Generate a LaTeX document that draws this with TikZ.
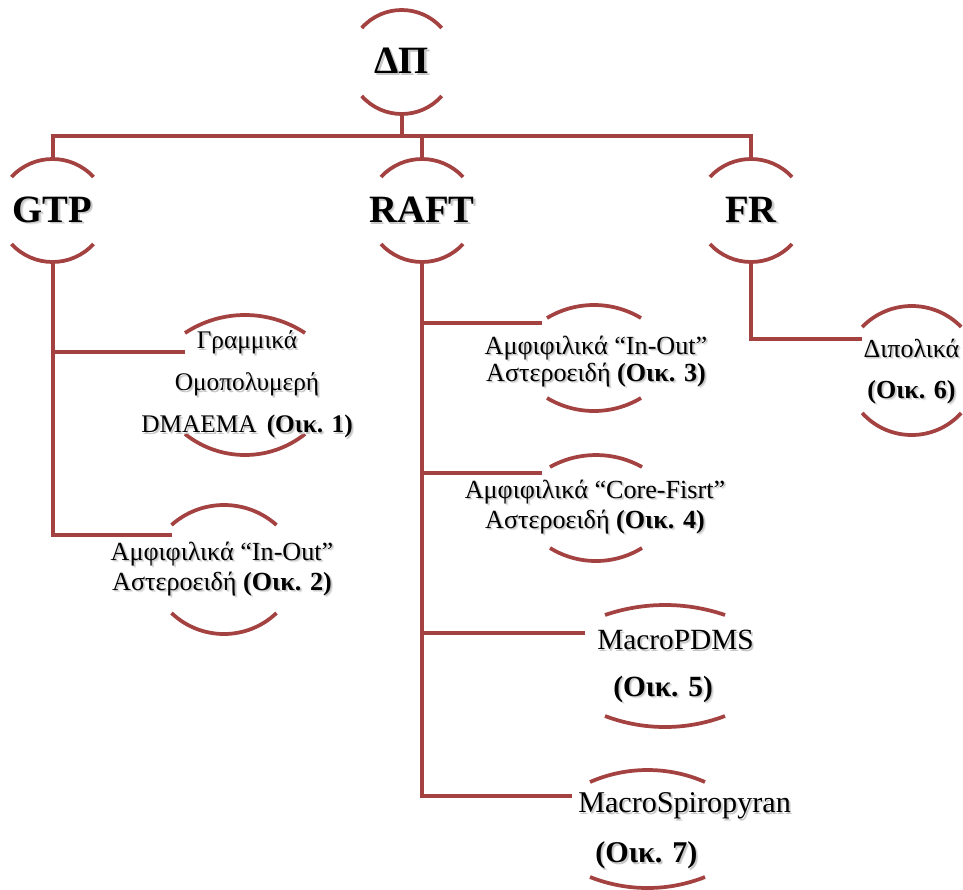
\documentclass[tikz,border=0pt]{standalone}
\usepackage{fontspec}
\setmainfont{Liberation Serif}
\usetikzlibrary{calc}

\definecolor{linered}{RGB}{163,66,64}

% text with a soft grey drop shadow
\newcommand\shtxt[1]{\leavevmode
  \rlap{\kern1.7pt\raisebox{-1.7pt}{\textcolor{black!10}{#1}}}%
  \rlap{\kern1.1pt\raisebox{-1.1pt}{\textcolor{black!22}{#1}}}%
  #1}

% a node drawn as a pair of facing arcs
% #1 name, #2 centre x, #3 top chord y, #4 bottom chord y,
% #5 half chord, #6 top sagitta, #7 bottom sagitta, #8 side margin
\newcommand\arcpair[8]{%
  \node[frame, minimum width={(2*#5+2*#8)*0.75pt},
        minimum height={(#4+#7-#3+#6)*0.75pt}]
        (#1) at ({#2},{(#3-#6+#4+#7)/2}) {};
  \draw[arcline] ({#2-#5},#3)
     .. controls ({#2-#5+2/3*(#5*#5-#6*#6)/#5},{#3-4/3*#6})
     and ({#2+#5-2/3*(#5*#5-#6*#6)/#5},{#3-4/3*#6}) .. ({#2+#5},#3);
  \draw[arcline] ({#2-#5},#4)
     .. controls ({#2-#5+2/3*(#5*#5-#7*#7)/#5},{#4+4/3*#7})
     and ({#2+#5-2/3*(#5*#5-#7*#7)/#5},{#4+4/3*#7}) .. ({#2+#5},#4);
}

\begin{document}
\begin{tikzpicture}[x=0.75pt, y=-0.75pt,
  conn/.style={draw=linered, line width=3pt},
  arcline/.style={draw=linered, line width=2.8pt},
  frame/.style={inner sep=0pt, outer sep=0pt, draw=none},
  head/.style={inner sep=0pt, font=\fontsize{29}{34}\selectfont\bfseries},
  item/.style={inner sep=0pt, align=center}]

\fill[white] (0,0) rectangle (963,889);
\useasboundingbox (0,0) rectangle (963,889);

% ---- arc frames ----
\arcpair{dp}{401.7}{28}{96}{40}{18}{18}{0}
\arcpair{gtp}{52.5}{177}{244}{41}{18}{18}{0}
\arcpair{raft}{422}{177}{244}{41}{18}{18}{0}
\arcpair{fr}{751}{177}{244}{41}{18}{18}{0}
\arcpair{g1}{245}{333}{434}{60}{18}{21}{0}
\arcpair{g2}{224}{525}{613}{52.5}{20}{21}{0}
\arcpair{r1}{594}{318}{398}{47}{13}{13}{5}
\arcpair{r2}{596}{467}{548}{46}{12}{13}{8}
\arcpair{r3}{665}{615}{716}{60}{10}{11}{20}
\arcpair{r4}{647.5}{782}{877}{57.5}{12}{11}{18}
\arcpair{f1}{911.7}{327}{413}{49.5}{21}{22}{0}

% ---- connector entry points ----
\coordinate (bus) at (0,136);
\coordinate (g1in) at (g1.west |- 0,352);
\coordinate (g2in) at (g2.west |- 0,535);
\coordinate (r1in) at (r1.west |- 0,323);
\coordinate (r2in) at (r2.west |- 0,473);
\coordinate (r3in) at (r3.west |- 0,633);
\coordinate (r4in) at (r4.west |- 0,796);
\coordinate (f1in) at (f1.west |- 0,339);

% ---- connectors ----
\draw[conn] (dp.south) -- (dp.south |- bus);
\draw[conn] (gtp.north) |- (fr.north |- bus) -- (fr.north);
\draw[conn] (raft.north) -- (raft.north |- bus);

\draw[conn] (gtp.south) |- (g1in);
\draw[conn] (gtp.south) |- (g2in);
\draw[conn] (raft.south) |- (r1in);
\draw[conn] (raft.south) |- (r2in);
\draw[conn] (raft.south) |- (r3in);
\draw[conn] (raft.south) |- (r4in);
\draw[conn] (fr.south) |- (f1in);

% ---- labels ----
\node[head] (dp-t)   at (401.7,62) {\shtxt{ΔΠ}};
\node[head] (gtp-t)  at (52.5,211) {\shtxt{GTP}};
\node[head] (raft-t) at (422,211)  {\shtxt{RAFT}};
\node[head] (fr-t)   at (751,211)  {\shtxt{FR}};

\node[item, font=\fontsize{19}{31.5}\selectfont] (g1-t) at (247,385.5)
  {\shtxt{Γραμμικά}\\ \shtxt{Ομοπολυμερή}\\ \shtxt{DMAEMA\hspace{0.4em}\textbf{(Οικ. 1)}}};
\node[item, font=\fontsize{19.6}{22.5}\selectfont] (g2-t) at (222,570)
  {\shtxt{Αμφιφιλικά “In-Out”}\\ \shtxt{Αστεροειδή \textbf{(Οικ. 2)}}};
\node[item, font=\fontsize{19.6}{20.5}\selectfont] (r1-t) at (596,362.5)
  {\shtxt{Αμφιφιλικά “In-Out”}\\ \shtxt{Αστεροειδή \textbf{(Οικ. 3)}}};
\node[item, font=\fontsize{19.6}{22.5}\selectfont] (r2-t) at (595,508)
  {\shtxt{Αμφιφιλικά “Core-Fisrt”}\\ \shtxt{Αστεροειδή \textbf{(Οικ. 4)}}};
\node[item, align=left, anchor=west, font=\fontsize{22}{35}\selectfont] (r3-t) at (597,667.5)
  {\shtxt{MacroPDMS}\\ \hspace*{12pt}\shtxt{\textbf{(Οικ. 5)}}};
\node[item, align=left, anchor=west, font=\fontsize{22.6}{37.5}\selectfont] (r4-t) at (578,832)
  {\shtxt{MacroSpiropyran}\\ \hspace*{12.75pt}\shtxt{\textbf{(Οικ. 7)}}};
\node[item, font=\fontsize{19.5}{31}\selectfont] (f1-t) at (911.5,372.5)
  {\shtxt{Διπολικά}\\ \shtxt{\textbf{(Οικ. 6)}}};

\end{tikzpicture}
\end{document}
